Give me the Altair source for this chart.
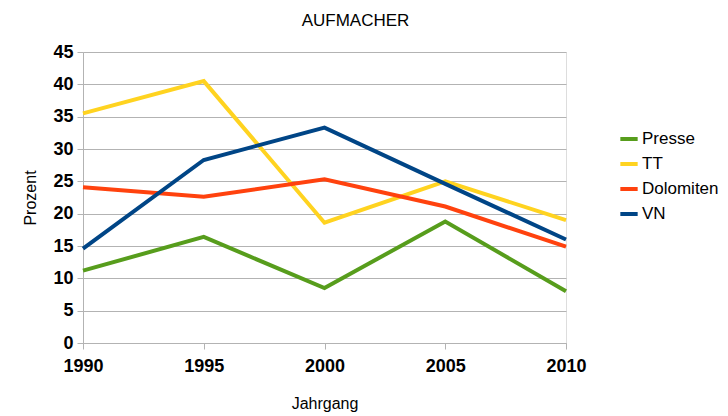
import altair as alt
import pandas as pd

years = [1990, 1995, 2000, 2005, 2010]
series = ["Presse", "TT", "Dolomiten", "VN"]
presse = [11.2, 16.4, 8.5, 18.8, 8.0]
tt = [35.5, 40.5, 18.6, 25.0, 19.0]
dolomiten = [24.1, 22.6, 25.3, 21.1, 14.9]
vn = [14.6, 28.3, 33.3, 24.6, 16.0]
colors = ["#579d1c", "#ffd320", "#ff420e", "#004586"]

rows = []
for name, vals in zip(series, [presse, tt, dolomiten, vn]):
    for y, v in zip(years, vals):
        rows.append({"Jahrgang": y, "Prozent": v, "Serie": name})
df = pd.DataFrame(rows)

font = "Liberation Sans"

chart = alt.Chart(df).mark_line(strokeWidth=4).encode(
    x=alt.X("Jahrgang:Q",
            scale=alt.Scale(domain=[1990, 2010], nice=False),
            axis=alt.Axis(values=years, format="d", title="Jahrgang",
                          grid=False, tickSize=6, tickColor="#b3b3b3",
                          domainColor="#b3b3b3", labelFont=font,
                          labelFlush=False,
                          labelFontWeight="bold", labelFontSize=18,
                          labelColor="#000", labelPadding=8,
                          titleFont=font, titleFontWeight="normal",
                          titleFontSize=16, titleColor="#000",
                          titlePadding=20)),
    y=alt.Y("Prozent:Q",
            scale=alt.Scale(domain=[0, 45], nice=False),
            axis=alt.Axis(values=list(range(0, 50, 5)), title="Prozent",
                          grid=True, gridColor="#b3b3b3", tickSize=6,
                          tickColor="#b3b3b3", domainColor="#b3b3b3",
                          labelFont=font, labelFontWeight="bold",
                          labelFontSize=18, labelColor="#000",
                          labelPadding=4, labelFlush=False,
                          titleFont=font, titleFontWeight="normal",
                          titleFontSize=16, titleColor="#000",
                          titlePadding=14)),
    color=alt.Color("Serie:N",
                    scale=alt.Scale(domain=series, range=colors),
                    legend=alt.Legend(title=None, orient="none",
                                      legendX=535, legendY=76,
                                      symbolType="stroke", symbolSize=300,
                                      symbolStrokeWidth=4,
                                      labelFont=font, labelFontSize=17,
                                      labelColor="#000", rowPadding=6,
                                      labelOffset=2, labelLimit=200)),
).properties(
    width=483, height=291,
    title=alt.TitleParams("AUFMACHER", font=font, fontSize=17,
                          fontWeight="normal", color="#000", offset=13,
                          dx=31),
    padding={"left": 75, "top": 44, "right": 154, "bottom": 72},
    autosize=alt.AutoSizeParams(type="none"),
).configure_view(stroke="#b3b3b3").configure(background="white")

chart.save("out.html", embed_options={"renderer": "svg", "actions": False})
